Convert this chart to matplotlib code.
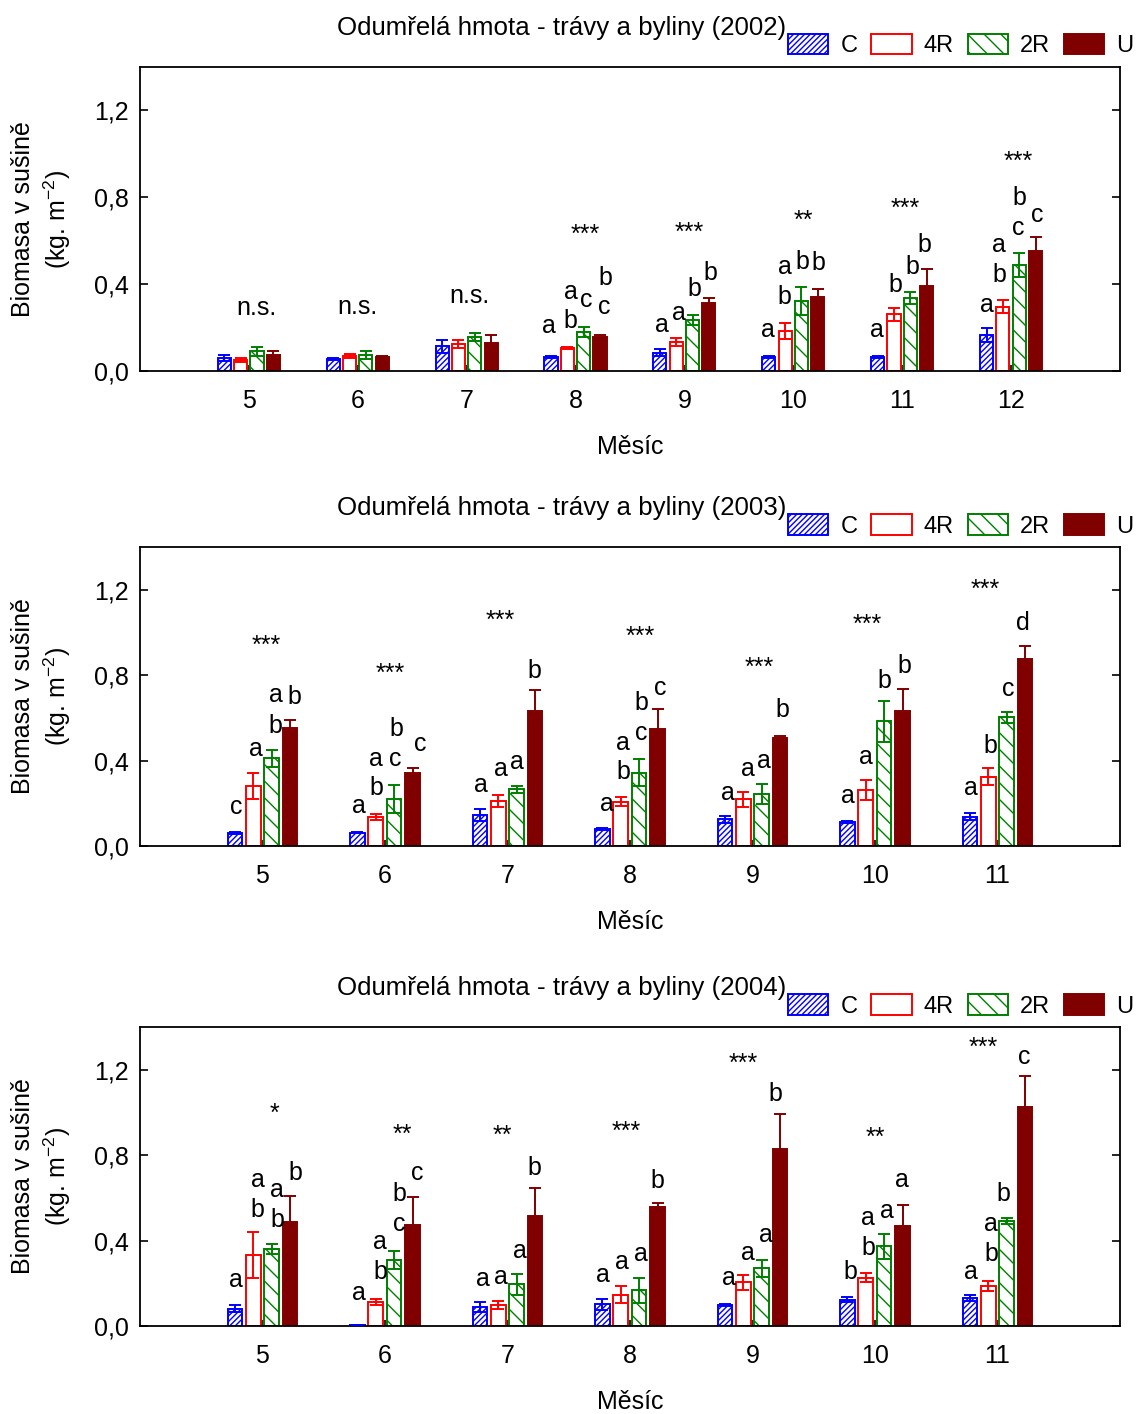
import matplotlib.pyplot as plt
import numpy as np

plt.rcParams['font.family'] = ['Liberation Sans', 'DejaVu Sans']
plt.rcParams['mathtext.fontset'] = 'custom'
plt.rcParams['mathtext.rm'] = 'Liberation Sans'
plt.rcParams['mathtext.default'] = 'rm'
plt.rcParams['hatch.linewidth'] = 1.0

groups = ['C', '4R', '2R', 'U']

# 2002
months_2002 = [5, 6, 7, 8, 9, 10, 11, 12]
c_2002 = [0.06, 0.055, 0.115, 0.065, 0.085, 0.065, 0.063, 0.165]
c_err_2002 = [0.015, 0.004, 0.03, 0.006, 0.015, 0.005, 0.004, 0.032]
r4_2002 = [0.05, 0.068, 0.125, 0.105, 0.135, 0.185, 0.262, 0.296]
r4_err_2002 = [0.008, 0.009, 0.02, 0.005, 0.018, 0.037, 0.03, 0.03]
r2_2002 = [0.09, 0.072, 0.157, 0.18, 0.235, 0.323, 0.337, 0.49]
r2_err_2002 = [0.02, 0.018, 0.02, 0.022, 0.025, 0.065, 0.028, 0.055]
u_2002 = [0.075, 0.065, 0.13, 0.155, 0.315, 0.34, 0.39, 0.552]
u_err_2002 = [0.015, 0.005, 0.035, 0.013, 0.02, 0.038, 0.078, 0.065]

# 2003
months_2003 = [5, 6, 7, 8, 9, 10, 11]
c_2003 = [0.06, 0.063, 0.145, 0.08, 0.125, 0.113, 0.138]
c_err_2003 = [0.005, 0.004, 0.03, 0.004, 0.016, 0.006, 0.018]
r4_2003 = [0.28, 0.135, 0.21, 0.208, 0.219, 0.262, 0.325]
r4_err_2003 = [0.062, 0.015, 0.028, 0.02, 0.036, 0.045, 0.04]
r2_2003 = [0.41, 0.22, 0.265, 0.344, 0.242, 0.583, 0.603]
r2_err_2003 = [0.04, 0.065, 0.015, 0.064, 0.047, 0.094, 0.025]
u_2003 = [0.552, 0.342, 0.634, 0.547, 0.505, 0.633, 0.874]
u_err_2003 = [0.04, 0.025, 0.095, 0.093, 0.012, 0.1, 0.064]

# 2004
months_2004 = [5, 6, 7, 8, 9, 10, 11]
c_2004 = [0.082, 0.005, 0.09, 0.102, 0.1, 0.124, 0.131]
c_err_2004 = [0.015, 0.002, 0.023, 0.026, 0.005, 0.013, 0.013]
r4_2004 = [0.332, 0.113, 0.098, 0.147, 0.206, 0.226, 0.187]
r4_err_2004 = [0.107, 0.015, 0.02, 0.04, 0.035, 0.022, 0.024]
r2_2004 = [0.36, 0.31, 0.195, 0.167, 0.271, 0.373, 0.49]
r2_err_2004 = [0.025, 0.043, 0.05, 0.057, 0.04, 0.058, 0.014]
u_2004 = [0.488, 0.474, 0.516, 0.555, 0.831, 0.467, 1.025]
u_err_2004 = [0.12, 0.132, 0.132, 0.02, 0.162, 0.102, 0.146]

# significance per month (text, x, y)
sig_2002 = [('n.s.', 5.07, 0.257), ('n.s.', 6.0, 0.262), ('n.s.', 7.03, 0.314),
            ('***', 8.09, 0.595), ('***', 9.04, 0.603), ('**', 10.095, 0.661),
            ('***', 11.03, 0.715), ('***', 12.065, 0.933)]
sig_2003 = [('***', 5.034, 0.902), ('***', 6.04, 0.772), ('***', 6.94, 1.023),
            ('***', 8.087, 0.944), ('***', 9.056, 0.80), ('***', 9.94, 1.004),
            ('***', 10.9, 1.168)]
sig_2004 = [('*', 5.1, 0.959), ('**', 6.14, 0.861), ('**', 6.96, 0.858),
            ('***', 7.967, 0.877), ('***', 8.925, 1.196), ('**', 10.006, 0.85),
            ('***', 10.88, 1.27)]

# homogeneous group letters (x, y, text)
letters_2002 = [
    (7.76, 0.173, 'a'), (7.954, 0.196, 'b'), (7.954, 0.334, 'a'), (8.098, 0.296, 'c'),
    (8.275, 0.395, 'b'), (8.266, 0.262, 'c'),
    (8.79, 0.181, 'a'), (8.95, 0.234, 'a'), (9.09, 0.345, 'b'), (9.24, 0.421, 'b'),
    (9.765, 0.155, 'a'), (9.92, 0.308, 'b'), (9.92, 0.449, 'a'), (10.085, 0.472, 'b'),
    (10.23, 0.464, 'b'),
    (10.77, 0.155, 'a'), (10.94, 0.365, 'b'), (11.095, 0.449, 'b'), (11.2, 0.549, 'b'),
    (11.78, 0.273, 'a'), (11.89, 0.411, 'b'), (11.89, 0.549, 'a'), (12.07, 0.625, 'c'),
    (12.08, 0.763, 'b'), (12.24, 0.686, 'c'),
]
letters_2003 = [
    (4.79, 0.149, 'c'), (4.944, 0.422, 'a'), (5.108, 0.531, 'b'), (5.108, 0.672, 'a'),
    (5.257, 0.666, 'b'),
    (5.79, 0.153, 'a'), (5.927, 0.239, 'b'), (5.927, 0.375, 'a'), (6.08, 0.375, 'c'),
    (6.09, 0.516, 'b'), (6.286, 0.445, 'c'),
    (6.78, 0.252, 'a'), (6.95, 0.328, 'a'), (7.08, 0.361, 'a'), (7.216, 0.786, 'b'),
    (7.81, 0.164, 'a'), (7.943, 0.313, 'b'), (7.943, 0.45, 'a'), (8.095, 0.497, 'c'),
    (8.095, 0.638, 'b'), (8.25, 0.708, 'c'),
    (8.797, 0.213, 'a'), (8.96, 0.328, 'a'), (9.09, 0.364, 'a'), (9.243, 0.603, 'b'),
    (9.777, 0.2, 'a'), (9.927, 0.383, 'a'), (10.08, 0.739, 'b'), (10.237, 0.81, 'b'),
    (10.78, 0.239, 'a'), (10.94, 0.437, 'b'), (11.09, 0.7, 'c'), (11.21, 1.01, 'd'),
]
letters_2004 = [
    (4.784, 0.183, 'a'), (4.96, 0.51, 'b'), (4.96, 0.653, 'a'), (5.12, 0.463, 'b'),
    (5.12, 0.606, 'a'), (5.27, 0.684, 'b'),
    (5.79, 0.121, 'a'), (5.96, 0.218, 'b'), (5.96, 0.362, 'a'), (6.12, 0.444, 'c'),
    (6.12, 0.584, 'b'), (6.26, 0.684, 'c'),
    (6.797, 0.186, 'a'), (6.944, 0.196, 'a'), (7.1, 0.318, 'a'), (7.216, 0.709, 'b'),
    (7.777, 0.207, 'a'), (7.932, 0.269, 'a'), (8.09, 0.303, 'a'), (8.226, 0.647, 'b'),
    (8.81, 0.191, 'a'), (8.966, 0.311, 'a'), (9.108, 0.393, 'a'), (9.19, 1.054, 'b'),
    (9.8, 0.222, 'b'), (9.945, 0.334, 'b'), (9.945, 0.474, 'a'), (10.095, 0.507, 'a'),
    (10.22, 0.649, 'a'),
    (10.78, 0.218, 'a'), (10.947, 0.304, 'b'), (10.947, 0.443, 'a'), (11.05, 0.587, 'b'),
    (11.22, 1.225, 'c'),
]

yticks = [0.0, 0.4, 0.8, 1.2]
ytick_labels = ['0,0', '0,4', '0,8', '1,2']

# bar looks: C hatched blue, 4R open red, 2R hatched green, U solid dark red
styles = [
    dict(fc='white', ec='#0000ff', hatch='//////'),
    dict(fc='white', ec='#ff0000', hatch=None),
    dict(fc='white', ec='#008000', hatch='\\\\'),
    dict(fc='#800000', ec='#800000', hatch=None),
]
offsets = [-0.225, -0.075, 0.075, 0.225]
width = 0.12


def draw_panel(ax, year, months, means, errs, letters, sig, xmax):
    x = np.array(months, dtype=float)
    handles = []
    for k in range(4):
        st = styles[k]
        b = ax.bar(x + offsets[k], means[k], width, facecolor=st['fc'],
                   edgecolor=st['ec'], hatch=st['hatch'], linewidth=1.4, zorder=2)
        ax.errorbar(x + offsets[k], means[k], yerr=errs[k], fmt='none',
                    ecolor=st['ec'], elinewidth=1.4, capsize=4.5, capthick=1.4, zorder=3)
        handles.append(b)

    for xx, yy, t in letters:
        ax.text(xx, yy, t, fontsize=18, ha='center', va='baseline')
    for t, xx, yy in sig:
        ax.text(xx, yy, t, fontsize=18, ha='center', va='baseline')

    ax.set_xlim(4, xmax)
    ax.set_ylim(0, 1.4)
    ax.set_xticks(months)
    ax.set_xticklabels([str(m) for m in months])
    ax.set_yticks(yticks)
    ax.set_yticklabels(ytick_labels)
    ax.tick_params(axis='x', direction='in', length=4, width=1.2, pad=13, labelsize=18)
    ax.tick_params(axis='y', direction='in', length=6, width=1.2, right=True, pad=8,
                   labelsize=18)
    for s in ax.spines.values():
        s.set_linewidth(1.3)
    ax.set_xlabel('Měsíc', fontsize=18, labelpad=16)

    ax.annotate('Odumřelá hmota - trávy a byliny (%d)' % year, xy=(0.4306, 1.0),
                xycoords='axes fraction', xytext=(0, 28), textcoords='offset points',
                ha='center', va='center', fontsize=18.6)
    ax.legend(handles, groups, ncol=4, loc='center right', frameon=False,
              bbox_to_anchor=(1.0133, 1.0 + 21 / 300), borderaxespad=0, borderpad=0,
              fontsize=17, handlelength=1.7, handleheight=0.95,
              handletextpad=0.5, columnspacing=0.6)


fig = plt.figure(figsize=(11.37, 14.14), dpi=100)

panels = [
    (2002, months_2002, [c_2002, r4_2002, r2_2002, u_2002],
     [c_err_2002, r4_err_2002, r2_err_2002, u_err_2002], letters_2002, sig_2002, 13,
     [0.1231, 0.7376, 0.8619, 0.2150]),
    (2003, months_2003, [c_2003, r4_2003, r2_2003, u_2003],
     [c_err_2003, r4_err_2003, r2_err_2003, u_err_2003], letters_2003, sig_2003, 12,
     [0.1231, 0.4017, 0.8619, 0.2115]),
    (2004, months_2004, [c_2004, r4_2004, r2_2004, u_2004],
     [c_err_2004, r4_err_2004, r2_err_2004, u_err_2004], letters_2004, sig_2004, 12,
     [0.1231, 0.0622, 0.8619, 0.2115]),
]

for year, months, means, errs, letters, sig, xmax, rect in panels:
    ax = fig.add_axes(rect)
    draw_panel(ax, year, months, means, errs, letters, sig, xmax)
    yc = rect[1] + rect[3] / 2
    fig.text(0.0205, yc, 'Biomasa v sušině', rotation=90, ha='center', va='center',
             fontsize=18)
    fig.text(0.0500, yc, '(kg. m$^{-2}$)', rotation=90, ha='center', va='center',
             fontsize=18)

fig.savefig('out.png', dpi=100)
